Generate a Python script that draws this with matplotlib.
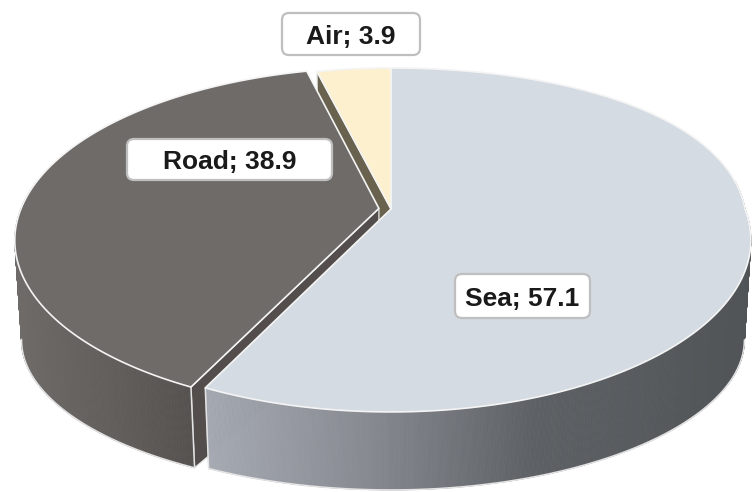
import numpy as np
import matplotlib
matplotlib.use("Agg")
import matplotlib.pyplot as plt
from matplotlib.patches import Polygon, FancyBboxPatch
from matplotlib.collections import PolyCollection
from matplotlib.colors import LinearSegmentedColormap

# ---- data -------------------------------------------------------------
categories = ["Sea", "Road", "Air"]
shares = [57.1, 38.9, 3.9]

# ---- styling ----------------------------------------------------------
top_colors = ["#D5DBE2", "#6F6B69", "#FCF0CE"]
face_colors = ["#8E9198", "#534E4C", "#68624E"]
wall_stops = [
    [(0.0, "#A6AAB2"), (0.3, "#868990"), (0.6, "#5D6064"), (1.0, "#515457")],
    [(0.0, "#6F6B69"), (0.5, "#635F5D"), (1.0, "#55514F")],
    [(0.0, "#CFC3A3"), (1.0, "#A89E82")],
]
explode = [0.0, 0.034, 0.0]
# label boxes: centre x, centre y, width, height (pixels)
label_boxes = [(522.5, 296, 135, 44), (229.5, 159.5, 205, 41), (351, 34, 138, 42)]

W, H = 752, 492
CX, CY = 391.0, 209.0          # projected pie centre
A_LEFT, A_RIGHT = 358.0, 354.0 # horizontal radii
B = 166.4                      # vertical radius
K = 0.18                       # perspective strength
G = 0.095                      # widening of the far right quadrant
SHRINK = 0.982                 # base ellipse is slightly narrower
DROP0, DROP1 = 104.8, 26.8     # extrusion depth: DROP0 - DROP1 * v


def proj(u, v, bottom=False):
    u = np.asarray(u, float)
    v = np.asarray(v, float)
    a = np.where(u < 0, A_LEFT, A_RIGHT)
    w = 1.0 - K * v
    x = a * u / w + a * G * np.clip(u, 0, None) * np.clip(-v, 0, None)
    y = B * v / w
    if bottom:
        x = x * SHRINK
        y = y + DROP0 - DROP1 * v
    return CX + x, CY + y


fig = plt.figure(figsize=(W / 100, H / 100), dpi=100)
ax = fig.add_axes([0, 0, 1, 1])
ax.set_xlim(0, W)
ax.set_ylim(H, 0)
ax.axis("off")

total = sum(shares)
bounds = np.concatenate([[0.0], np.cumsum(shares) / total * 360.0])
FRONT_LO, FRONT_HI = 80.0, 280.0   # angular span of the visible outer wall

# where the base outline turns round at the left and right silhouettes
_th = np.linspace(FRONT_LO, FRONT_HI, 4001)
_xb, _ = proj(np.sin(np.radians(_th)), -np.cos(np.radians(_th)), True)
BASE_R, BASE_L = _th[np.argmax(_xb)], _th[np.argmin(_xb)]

faces, walls, tops, edges = [], [], [], []
for i, cat in enumerate(categories):
    t0, t1 = bounds[i], bounds[i + 1]
    mid = np.radians((t0 + t1) / 2)
    du, dv = explode[i] * np.sin(mid), -explode[i] * np.cos(mid)

    def arc(a0, a1, n=200, bottom=False):
        th = np.radians(np.linspace(a0, a1, n))
        x, y = proj(du + np.sin(th), dv - np.cos(th), bottom)
        return np.column_stack([x, y])

    c_top = np.array(proj(du, dv))
    c_bot = np.array(proj(du, dv, True))
    top = np.vstack([c_top, arc(t0, t1)])
    tops.append((top, top_colors[i]))

    # outer wall: thin strips between rim and base
    lo, hi = max(t0, FRONT_LO), min(t1, FRONT_HI)
    if hi > lo:
        n = int(4 * (hi - lo)) + 2
        upper = arc(lo, hi, n)
        lower = arc(lo, hi, n, bottom=True)
        quads = [np.array([upper[j], upper[j + 1], lower[j + 1], lower[j]])
                 for j in range(n - 1)]
        walls.append((quads, wall_stops[i]))
        e_lo, e_hi = max(lo, BASE_R), min(hi, BASE_L)
        if e_hi > e_lo:
            edges.append(arc(e_lo, e_hi, bottom=True))
        for ang in (t0, t1):
            if lo <= ang <= hi and 100 < ang < 260:
                th = np.radians(ang)
                p = proj(du + np.sin(th), dv - np.cos(th))
                q = proj(du + np.sin(th), dv - np.cos(th), True)
                edges.append(np.array([p, q]))

    # radial cut faces that turn toward the viewer
    for ang, sign in ((t0, -1), (t1, 1)):
        th = np.radians(ang)
        if sign * np.sin(th) > 1e-6:
            o_top = np.array(proj(du + np.sin(th), dv - np.cos(th)))
            o_bot = np.array(proj(du + np.sin(th), dv - np.cos(th), True))
            quad = np.array([c_top, o_top, o_bot, c_bot])
            faces.append((dv - np.cos(th), quad, face_colors[i]))

# radial faces, back to front
for _, quad, col in sorted(faces, key=lambda f: f[0]):
    ax.add_patch(Polygon(quad, closed=True, facecolor=col, edgecolor="#E8E8E8",
                         linewidth=0.9, joinstyle="round", zorder=1))

# outer walls with horizontal shading
for quads, stops in walls:
    cmap = LinearSegmentedColormap.from_list("wall", stops)
    xs = np.array([q[:, 0].mean() for q in quads])
    allx = np.concatenate([q[:, 0] for q in quads])
    t = (xs - allx.min()) / (allx.max() - allx.min())
    cols = cmap(t)
    ax.add_collection(PolyCollection(quads, facecolors=cols, edgecolors=cols,
                                     linewidths=0.6, zorder=2))

for seg in edges:
    ax.plot(seg[:, 0], seg[:, 1], color="#E4E4E4", linewidth=1.1,
            solid_capstyle="round", zorder=2.2)

# top faces
for pts, col in tops:
    ax.add_patch(Polygon(pts, closed=True, facecolor=col, edgecolor="#F4F4F4",
                         linewidth=1.2, joinstyle="round", zorder=3))

ax.set_xlim(0, W)
ax.set_ylim(H, 0)

# data labels
fs = 19
cap = 0.72 * fs * 100 / 72
for cat, val, (bx, by, bw, bh) in zip(categories, shares, label_boxes):
    ax.add_patch(FancyBboxPatch((bx - bw / 2, by - bh / 2), bw, bh,
                                boxstyle="round,pad=0,rounding_size=7",
                                facecolor="white", edgecolor="#BFBFBF",
                                linewidth=1.6, zorder=5))
    ax.text(bx, by + cap / 2, f"{cat}; {val}", ha="center", va="baseline",
            fontsize=fs, fontweight="bold", family=["Liberation Sans", "DejaVu Sans"],
            color="#1A1A1A", zorder=6)

fig.savefig("out.png", dpi=100)
